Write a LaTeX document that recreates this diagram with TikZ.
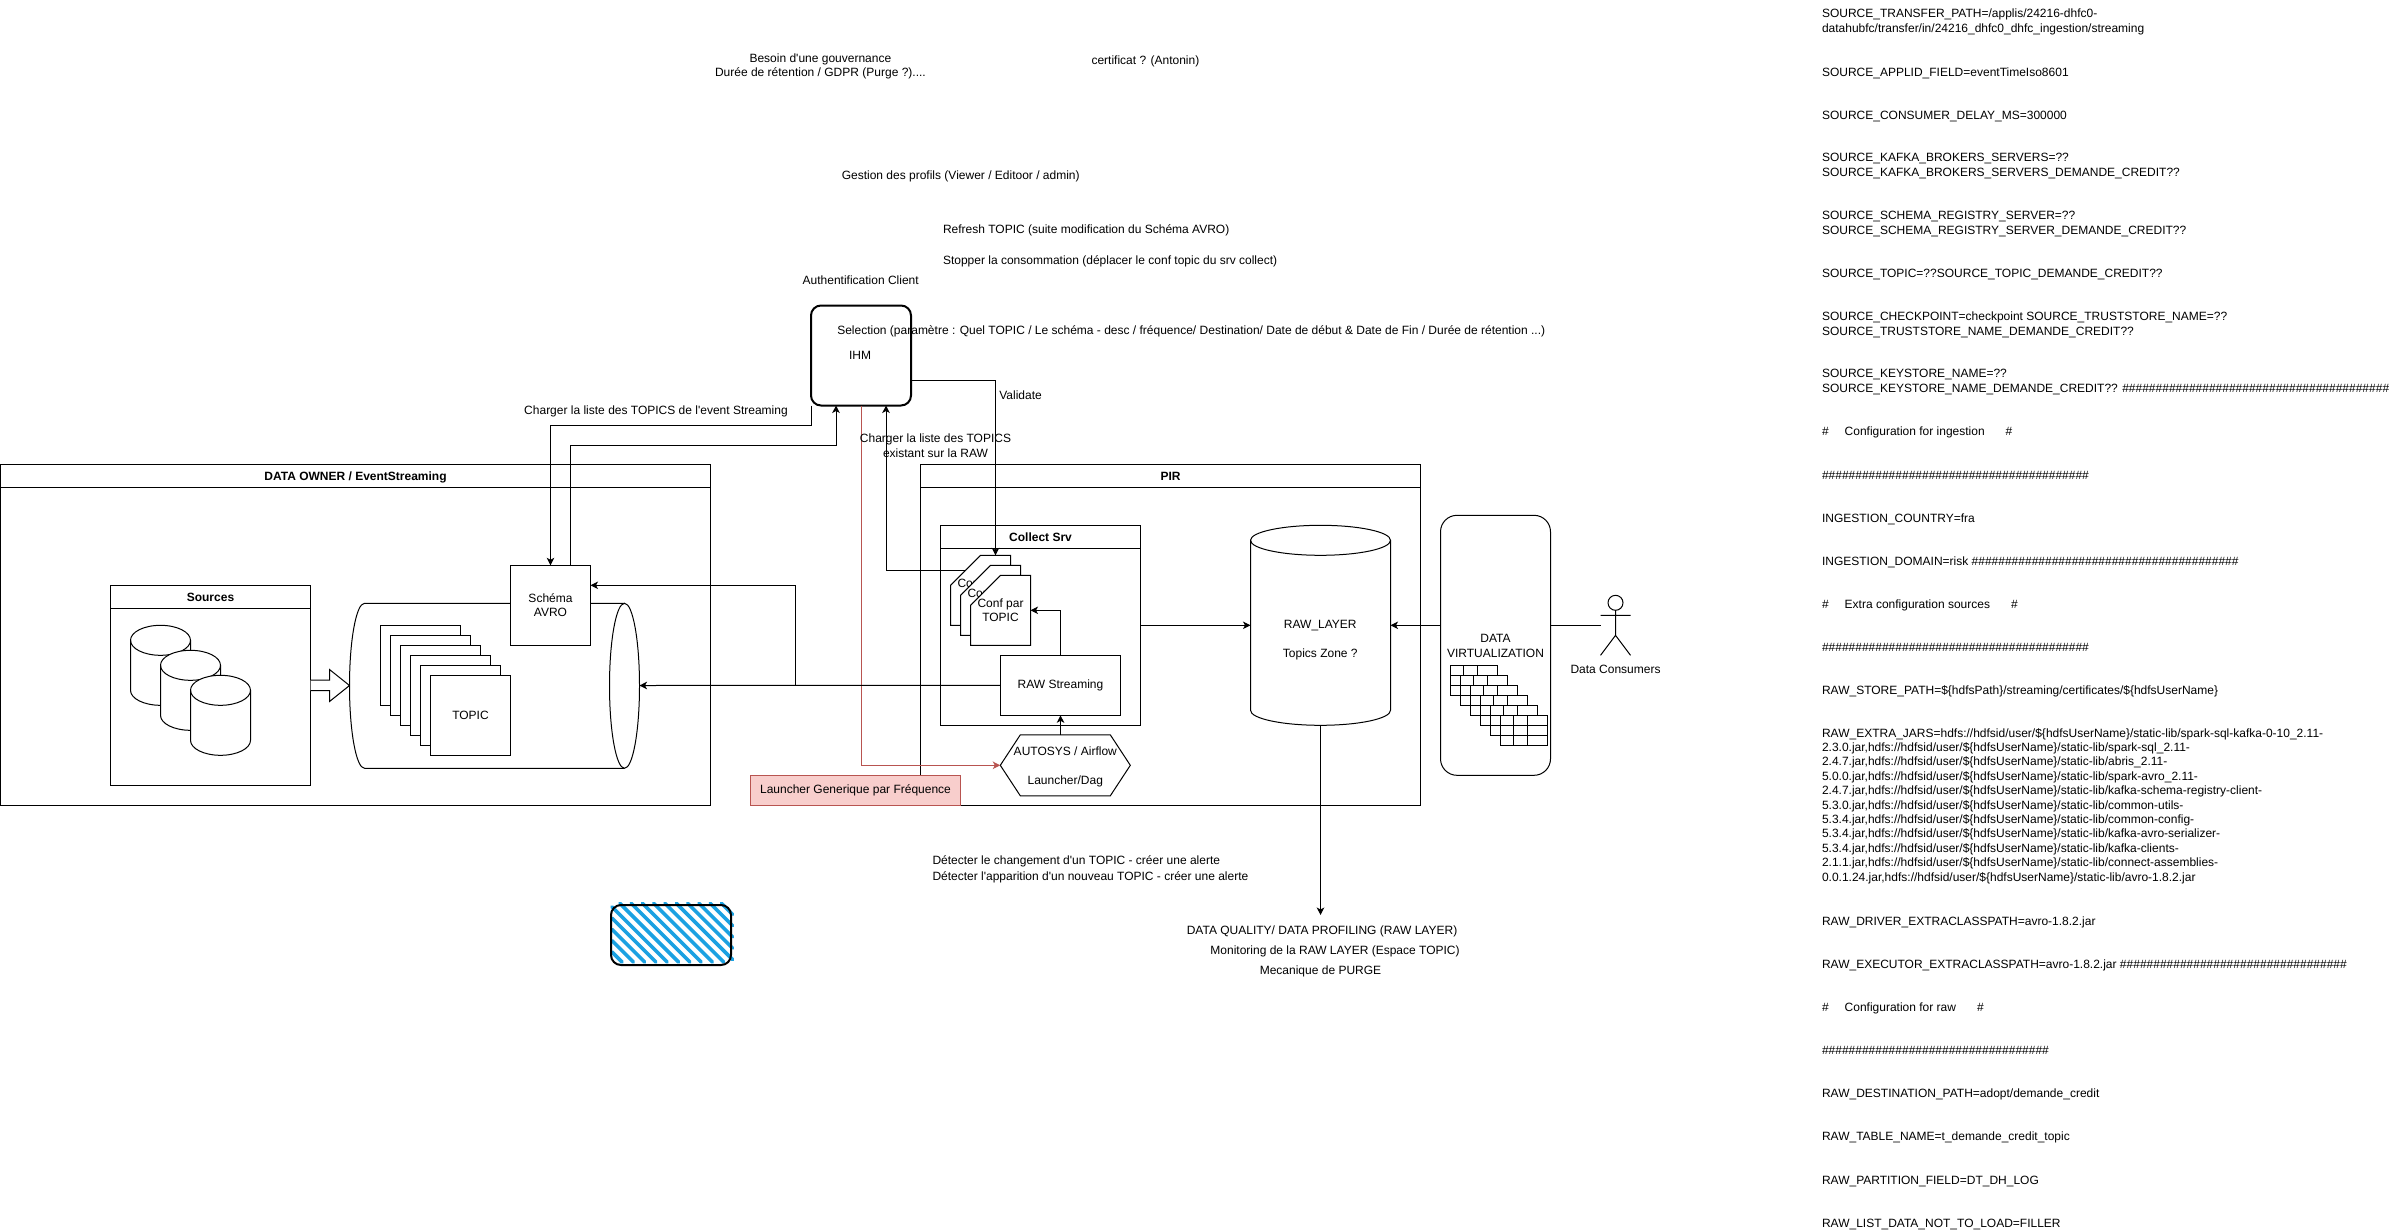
\documentclass[tikz,border=0pt]{standalone}
\usepackage{fontspec}
\setmainfont{Liberation Sans}
\usetikzlibrary{arrows.meta,calc}
\definecolor{redline}{HTML}{B85450}
\definecolor{redfill}{HTML}{F8CECC}
\definecolor{hatchblue}{HTML}{1BA1E2}
\newcommand{\hf}{\#\#\#\#\#}
\newcommand{\hu}{\$\{hdfsUserName\}}
\newcommand{\us}{\_}
\newcommand{\apo}{\textquotesingle}
% swimlane: name, x, y, w, h, title
\newcommand{\lane}[6]{%
  \node[boxn,minimum width=#4pt,minimum height=#5pt] (#1) at ({#2+#4/2},{#3+#5/2}) {};
  \draw ($(#1.north west)+(0,23)$) -- ($(#1.north east)+(0,23)$);
  \node[lblb] (#1title) at ({#2+#4/2},{#3+11.7}) {#6};
}
% cylinder: x, y, w, h, rx
\newcommand{\cylinder}[5]{%
  \filldraw[fill=white] (#1,{#2+15}) -- (#1,{#2+#4-15})
     arc[start angle=180,end angle=360,x radius=#5pt,y radius=15pt]
     -- ({#1+#3},{#2+15})
     arc[start angle=0,end angle=180,x radius=#5pt,y radius=15pt] -- cycle;
  \draw (#1,{#2+15}) arc[start angle=180,end angle=360,x radius=#5pt,y radius=15pt];
}
% card: x, y
\newcommand{\card}[2]{%
  \filldraw[fill=white] ({#1+30},#2) -- ({#1+60},#2) -- ({#1+60},{#2+70}) -- (#1,{#2+70}) -- (#1,{#2+30}) -- cycle;
}
% small table: x, y
\newcommand{\grille}[2]{%
  \filldraw[fill=white] (#1,#2) rectangle ({#1+47},{#2+30});
  \draw ({#1+13.3},#2) -- ({#1+13.3},{#2+30}) ({#1+27},#2) -- ({#1+27},{#2+30})
        (#1,{#2+10}) -- ({#1+47},{#2+10}) (#1,{#2+20}) -- ({#1+47},{#2+20});
}
\tikzset{
  x=1pt,y=-1pt,
  every node/.style={font=\fontsize{12}{14.4}\selectfont},
  every path/.style={line width=1pt},
  boxn/.style={draw=black,fill=white,rectangle,inner sep=0pt,outer sep=0pt,align=center},
  lbl/.style={anchor=base,inner sep=0pt,outer sep=0pt,yshift=-4.3pt,align=center},
  lblb/.style={lbl,font=\fontsize{12}{14.4}\selectfont\bfseries},
  lblw/.style={anchor=base west,inner sep=0pt,outer sep=0pt,yshift=-4.3pt,align=left},
  conn/.style={draw=black,-{Stealth[length=7.5pt,width=7.5pt,inset=2pt]}},
  plain/.style={draw=black},
  redconn/.style={draw=redline,-{Stealth[length=7.5pt,width=7.5pt,inset=2pt]}},
}
\begin{document}
\begin{tikzpicture}
\useasboundingbox[fill=white] (0,0) rectangle (2389,1231);

% ---------- DATA OWNER ----------
\lane{owner}{0.5}{464.8}{710}{340.5}{DATA OWNER / EventStreaming}
\lane{sources}{110.5}{585.3}{200}{200}{Sources}
\cylinder{130.5}{625.3}{60}{80}{30}
\cylinder{160.5}{650.3}{60}{80}{30}
\cylinder{190.5}{675.3}{60}{80}{30}
\filldraw[fill=white] (sources.east |- 0,680) -- (329.5,680) -- (329.5,669.5) -- (349.5,685.5) -- (329.5,701.5) -- (329.5,690.5) -- (sources.east |- 0,690.5);

% horizontal cylinder
\fill[white] (364.5,603.3) -- (624.5,603.3) -- (624.5,768.3) -- (364.5,768.3)
   arc[start angle=270,end angle=90,x radius=15pt,y radius=82.5pt] -- cycle;
\draw (624.5,603.3) -- (364.5,603.3) arc[start angle=90,end angle=270,x radius=15pt,y radius=82.5pt] -- (624.5,768.3);
\filldraw[fill=white] (624.5,685.8) ellipse [x radius=15pt,y radius=82.5pt];
\coordinate (cylE) at (639.5,685.5);

\foreach \i in {0,...,4} {
  \node[boxn,minimum width=80pt,minimum height=80pt] at ({420.5+10*\i},{665.3+10*\i}) {};
}
\node[boxn,minimum width=80pt,minimum height=80pt] (topic) at (470.5,715.3) {TOPIC};
\node[boxn,minimum width=80pt,minimum height=80pt] (schema) at (550.5,605.3) {Schéma\\AVRO};

% ---------- PIR ----------
\lane{pir}{920.5}{464.8}{500}{340.5}{PIR}
\lane{coll}{940.5}{525.3}{200}{200}{Collect Srv}
\card{950.5}{555.3}
\node[lbl] (conf1) at (980.5,597.3) {Conf par\\TOPIC};
\card{960.5}{565.3}
\node[lbl] (conf2) at (990.5,607.3) {Conf par\\TOPIC};
\card{970.5}{575.3}
\node[lbl] (conf3) at (1000.5,617.3) {Conf par\\TOPIC};
\coordinate (confTop) at (995.5,555.3);
\coordinate (confSide) at (965.5,570.3);
\coordinate (confE) at (1030.5,610.3);

\node[boxn,minimum width=120pt,minimum height=60pt] (raw) at (1060.5,685.3) {RAW Streaming};

\filldraw[fill=white] (1000.3,765.3) -- (1020.3,734.8) -- (1110.3,734.8) -- (1130.3,765.3) -- (1110.3,795.8) -- (1020.3,795.8) -- cycle;
\node[lbl] (hex) at (1065.3,780) {AUTOSYS / Airflow\\[14.4pt]Launcher/Dag};
\coordinate (hexTop) at (1060.5,734.8);
\coordinate (hexW) at (1000.3,765.3);

\node[draw=redline,fill=redfill,rectangle,inner sep=0pt,outer sep=0pt,minimum width=210pt,minimum height=30pt] (launch) at (855.5,790.3) {Launcher Generique par Fréquence};

\cylinder{1250.5}{525.3}{140}{200}{70}
\node[lbl] (rawlayer) at (1320.3,652.7) {RAW\us LAYER\\[14.4pt]Topics Zone ?};
\coordinate (cylRawW) at (1250.5,625.3);
\coordinate (cylRawE) at (1390.5,625.3);
\coordinate (cylRawS) at (1320.5,725.3);

% ---------- DATA VIRTUALIZATION ----------
\node[boxn,rounded corners=16.5pt,minimum width=110pt,minimum height=260pt] (dv) at (1495.5,645.3) {};
\node[lbl] (dvtext) at (1495.5,652.7) {DATA\\VIRTUALIZATION};
\foreach \i in {0,...,5} { \grille{1450.5+10*\i}{665.3+10*\i} }

% actor
\draw (1615.5,602.8) circle [radius=7.5pt];
\draw (1615.5,610.3) -- (1615.5,635.3) (1600.5,615.3) -- (1630.5,615.3) (1600.5,655.3) -- (1615.5,635.3) -- (1630.5,655.3);
\coordinate (actorW) at (1600.5,625.3);
\node[lbl] (actorlabel) at (1615.5,668.7) {Data Consumers};

% ---------- IHM ----------
\node[boxn,line width=2pt,rounded corners=10pt,minimum width=100pt,minimum height=100pt] (ihm) at (861,355.5) {};
\node[lbl] (ihmtext) at (860,354.7) {IHM};

% ---------- connectors ----------
\draw[conn] (ihm.south west) -- ($(ihm.south west)+(0,20)$) -| (schema.north);
\draw[conn] ($(schema.north)+(20,0)$) |- ($(ihm.south)+(-25,40)$) -- ($(ihm.south)+(-25,0)$);
\draw[conn] (confSide) -| ($(ihm.south)+(25,0)$);
\draw[conn] ($(ihm.east)+(0,25)$) -| (confTop);
\draw[redconn] (ihm.south) |- (hexW);
\draw[conn] (raw.west) -- (cylE);
\draw[conn] (raw.west -| 795.5,0) -- ($(schema.east)+(205,-20)$) -- ($(schema.east)+(0,-20)$);
\draw[conn] (raw.north) |- (confE);
\draw[conn] (hexTop) -- (hexTop |- raw.south);
\draw[conn] (coll.east) -- (cylRawW);
\draw[conn] ($(dv.west)+(0,-20)$) -- (cylRawE);
\draw[plain] ($(dv.east)+(0,-20)$) -- (actorW);
\coordinate (dqTop) at (1320.5,915);
\draw[conn] (cylRawS) -- (dqTop);

% ---------- hatched box ----------
\foreach \n in {0,...,14} {
  \pgfmathsetmacro{\k}{-340+11.3*\n}
  \pgfmathsetmacro{\xa}{max(612,\k+903.3)}
  \pgfmathsetmacro{\ya}{\xa-\k}
  \pgfmathsetmacro{\xb}{min(732.5,\k+962)}
  \pgfmathsetmacro{\yb}{\xb-\k}
  \draw[line width=3.6pt,line cap=round,hatchblue] (\xa,\ya) -- (\xb,\yb);
}
\node[draw=black,line width=2pt,rounded corners=10pt,rectangle,inner sep=0pt,outer sep=0pt,minimum width=120pt,minimum height=60pt] (hatchbox) at (671,935) {};

% ---------- free labels ----------
\node[lbl] (t1) at (820.4,72.7) {Besoin d\apo une gouvernance\\Durée de rétention / GDPR (Purge ?)....};
\node[lbl] (t2) at (1145.4,60) {certificat ? (Antonin)};
\node[lbl] (t3) at (960.7,175) {Gestion des profils (Viewer / Editoor / admin)};
\node[lblw] (t4) at (943,229.3) {Refresh TOPIC (suite modification du Schéma AVRO)};
\node[lblw] (t5) at (943,260) {Stopper la consommation (déplacer le conf topic du srv collect)};
\node[lbl] (t6) at (860.7,280) {Authentification Client};
\node[lblw] (t7) at (837.3,329.7) {Selection (paramètre : Quel TOPIC / Le schéma - desc / fréquence/ Destination/ Date de début \& Date de Fin / Durée de rétention ...)};
\node[lbl] (t8) at (656,410) {Charger la liste des TOPICS de l\apo event Streaming};
\node[lblw] (t9) at (999.3,394.7) {Validate};
\node[lbl] (t10) at (935.5,452.7) {Charger la liste des TOPICS\\existant sur la RAW};
\node[lblw] (t11) at (932.5,860) {Détecter le changement d\apo un TOPIC - créer une alerte};
\node[lblw] (t12) at (932.5,876) {Détecter l\apo apparition d\apo un nouveau TOPIC - créer une alerte};
\node[lbl] (t13) at (1322,930) {DATA QUALITY/ DATA PROFILING (RAW LAYER)};
\node[lbl] (t14) at (1335,950) {Monitoring de la RAW LAYER (Espace TOPIC)};
\node[lbl] (t15) at (1320.5,970) {Mecanique de PURGE};

% ---------- configuration column ----------
\node[lblw] (c1) at (1822,28) {SOURCE\us TRANSFER\us PATH=/applis/24216-dhfc0-\\datahubfc/transfer/in/24216\us dhfc0\us dhfc\us ingestion/streaming};
\node[lblw] (c2) at (1822,71.7) {SOURCE\us APPLID\us FIELD=eventTimeIso8601};
\node[lblw] (c3) at (1822,114.7) {SOURCE\us CONSUMER\us DELAY\us MS=300000};
\node[lblw] (c4) at (1822,171.7) {SOURCE\us KAFKA\us BROKERS\us SERVERS=??\\SOURCE\us KAFKA\us BROKERS\us SERVERS\us DEMANDE\us CREDIT??};
\node[lblw] (c5) at (1822,229.7) {SOURCE\us SCHEMA\us REGISTRY\us SERVER=??\\SOURCE\us SCHEMA\us REGISTRY\us SERVER\us DEMANDE\us CREDIT??};
\node[lblw] (c6) at (1822,272.7) {SOURCE\us TOPIC=??SOURCE\us TOPIC\us DEMANDE\us CREDIT??};
\node[lblw] (c7) at (1822,330.7) {SOURCE\us CHECKPOINT=checkpoint SOURCE\us TRUSTSTORE\us NAME=??\\SOURCE\us TRUSTSTORE\us NAME\us DEMANDE\us CREDIT??};
\node[lblw] (c8) at (1822,388) {SOURCE\us KEYSTORE\us NAME=??\\SOURCE\us KEYSTORE\us NAME\us DEMANDE\us CREDIT?? \hf\hf\hf\hf\hf\hf\hf\hf};
\node[lblw] (c9) at (1822,430.7) {\#\hspace{16pt}Configuration for ingestion\hspace{21pt}\#};
\node[lblw] (c10) at (1822,474.7) {\hf\hf\hf\hf\hf\hf\hf\hf};
\node[lblw] (c11) at (1822,518) {INGESTION\us COUNTRY=fra};
\node[lblw] (c12) at (1822,560.7) {INGESTION\us DOMAIN=risk \hf\hf\hf\hf\hf\hf\hf\hf};
\node[lblw] (c13) at (1822,603.7) {\#\hspace{16pt}Extra configuration sources\hspace{21pt}\#};
\node[lblw] (c14) at (1822,646.7) {\hf\hf\hf\hf\hf\hf\hf\hf};
\node[lblw] (c15) at (1822,690) {RAW\us STORE\us PATH=\$\{hdfsPath\}/streaming/certificates/\hu};
\node[lblw] (c16) at (1822,876.7) {RAW\us EXTRA\us JARS=hdfs://hdfsid/user/\hu/static-lib/spark-sql-kafka-0-10\us 2.11-\\
2.3.0.jar,hdfs://hdfsid/user/\hu/static-lib/spark-sql\us 2.11-\\
2.4.7.jar,hdfs://hdfsid/user/\hu/static-lib/abris\us 2.11-\\
5.0.0.jar,hdfs://hdfsid/user/\hu/static-lib/spark-avro\us 2.11-\\
2.4.7.jar,hdfs://hdfsid/user/\hu/static-lib/kafka-schema-registry-client-\\
5.3.0.jar,hdfs://hdfsid/user/\hu/static-lib/common-utils-\\
5.3.4.jar,hdfs://hdfsid/user/\hu/static-lib/common-config-\\
5.3.4.jar,hdfs://hdfsid/user/\hu/static-lib/kafka-avro-serializer-\\
5.3.4.jar,hdfs://hdfsid/user/\hu/static-lib/kafka-clients-\\
2.1.1.jar,hdfs://hdfsid/user/\hu/static-lib/connect-assemblies-\\
0.0.1.24.jar,hdfs://hdfsid/user/\hu/static-lib/avro-1.8.2.jar};
\node[lblw] (c17) at (1822,921) {RAW\us DRIVER\us EXTRACLASSPATH=avro-1.8.2.jar};
\node[lblw] (c18) at (1822,963.7) {RAW\us EXECUTOR\us EXTRACLASSPATH=avro-1.8.2.jar \hf\hf\hf\hf\hf\hf\#\#\#\#};
\node[lblw] (c19) at (1822,1006.7) {\#\hspace{16pt}Configuration for raw\hspace{21pt}\#};
\node[lblw] (c20) at (1822,1049.7) {\hf\hf\hf\hf\hf\hf\#\#\#\#};
\node[lblw] (c21) at (1822,1092.7) {RAW\us DESTINATION\us PATH=adopt/demande\us credit};
\node[lblw] (c22) at (1822,1135.7) {RAW\us TABLE\us NAME=t\us demande\us credit\us topic};
\node[lblw] (c23) at (1822,1179.7) {RAW\us PARTITION\us FIELD=DT\us DH\us LOG};
\node[lblw] (c24) at (1822,1222.7) {RAW\us LIST\us DATA\us NOT\us TO\us LOAD=FILLER};
\end{tikzpicture}
\end{document}
